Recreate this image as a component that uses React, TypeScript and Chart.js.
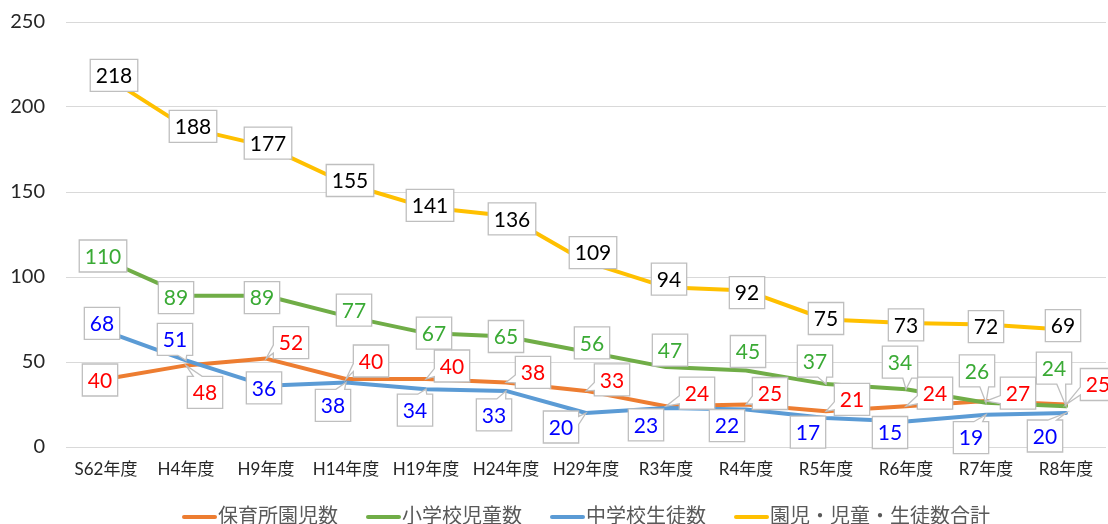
import React, { useEffect, useRef } from 'react';
import { Chart, registerables } from 'chart.js';

Chart.register(...registerables);

// ---- data ----
const categories = ['S62年度', 'H4年度', 'H9年度', 'H14年度', 'H19年度', 'H24年度', 'H29年度', 'R3年度', 'R4年度', 'R5年度', 'R6年度', 'R7年度', 'R8年度'];
const nurseryKids = [40, 48, 52, 40, 40, 38, 33, 24, 25, 21, 24, 27, 25];
const elementaryKids = [110, 89, 89, 77, 67, 65, 56, 47, 45, 37, 34, 26, 24];
const juniorHighKids = [68, 51, 36, 38, 34, 33, 20, 23, 22, 17, 15, 19, 20];
const totalKids = [218, 188, 177, 155, 141, 136, 109, 94, 92, 75, 73, 72, 69];
const seriesNames = ['保育所園児数', '小学校児童数', '中学校生徒数', '園児・児童・生徒数合計'];
const yTickValues = [0, 50, 100, 150, 200, 250];

// ---- styles ----
const lineColors = ['#ED7D31', '#70AD47', '#5B9BD5', '#FFC000'];
const labelColors = ['#FF0000', '#3AAA35', '#0000FF', '#000000'];
const FONT = '"Lato", "Noto Sans CJK JP", sans-serif';
const CANVAS_SHIFT = 11;
const CANVAS_H = 524 + CANVAS_SHIFT;

// label box offsets (px, relative to the point)
const nurseryLabelOffsets = [[-6, 1], [19, 27], [25, -16], [25, -18], [26, -13], [27, -10], [26, -11], [31, -13], [24, -11], [26, -12], [29, -13], [32, -8], [32, -20]];
const elementaryLabelOffsets = [[-3, -4], [-10, 2], [-4, 2], [8, -6], [8, 0], [0, 0], [6, -9], [4, -17], [2, -19], [-11, -23], [-6, -27], [-9, -32], [-12, -38]];
const juniorLabelOffsets = [[-4, -8], [-11, -21], [-2, 2], [-13, 23], [-11, 21], [-12, 24], [-25, 14], [-20, 17], [-19, 16], [-18, 14], [-16, 11], [-15, 23], [-21, 23]];
const totalLabelOffsets = [[8, -1], [7, -1], [2, -3], [4, -3], [4, -2], [6, 3], [7, -9], [3, -8], [1, 2], [0, -1], [0, 2], [0, 2], [-3, -4]];
const labelOffsets = [nurseryLabelOffsets, elementaryLabelOffsets, juniorLabelOffsets, totalLabelOffsets];

function drawCallout(ctx: CanvasRenderingContext2D, x: number, y: number, w: number, h: number, px: number, py: number) {
  const r = x + w;
  const b = y + h;
  const cx = x + w / 2;
  const cy = y + h / 2;
  const inside = px >= x - 3 && px <= r + 3 && py >= y - 3 && py <= b + 3;
  let side: string | null = null;
  if (!inside) {
    const nx = (px - cx) / (w / 2);
    const ny = (py - cy) / (h / 2);
    if (Math.abs(ny) >= Math.abs(nx)) side = ny < 0 ? 'top' : 'bottom';
    else side = nx < 0 ? 'left' : 'right';
  }
  let a = 0, c = 0;
  if (side === 'top' || side === 'bottom') {
    if (px < cx) { a = x + w * 0.17; c = x + w * 0.42; }
    else { a = r - w * 0.42; c = r - w * 0.17; }
  } else if (side) {
    if (py < cy) { a = y + h * 0.17; c = y + h * 0.42; }
    else { a = b - h * 0.42; c = b - h * 0.17; }
  }
  ctx.beginPath();
  ctx.moveTo(x, y);
  if (side === 'top') { ctx.lineTo(a, y); ctx.lineTo(px, py); ctx.lineTo(c, y); }
  ctx.lineTo(r, y);
  if (side === 'right') { ctx.lineTo(r, a); ctx.lineTo(px, py); ctx.lineTo(r, c); }
  ctx.lineTo(r, b);
  if (side === 'bottom') { ctx.lineTo(c, b); ctx.lineTo(px, py); ctx.lineTo(a, b); }
  ctx.lineTo(x, b);
  if (side === 'left') { ctx.lineTo(x, c); ctx.lineTo(px, py); ctx.lineTo(x, a); }
  ctx.closePath();
  ctx.fillStyle = '#FFFFFF';
  ctx.fill();
  ctx.strokeStyle = '#BFBFBF';
  ctx.lineWidth = 1.3;
  ctx.stroke();
}

const calloutPlugin = {
  id: 'calloutLabels',
  afterDatasetsDraw(chart: any) {
    const ctx: CanvasRenderingContext2D = chart.ctx;
    ctx.save();
    ctx.font = `21px ${FONT}`;
    ctx.textAlign = 'center';
    ctx.textBaseline = 'middle';
    chart.data.datasets.forEach((ds: any, di: number) => {
      const meta = chart.getDatasetMeta(di);
      const offs = labelOffsets[di];
      meta.data.forEach((pt: any, i: number) => {
        const text = String(ds.data[i]);
        const tw = ctx.measureText(text).width;
        const w = tw + 11;
        const h = 32;
        const cx = pt.x + offs[i][0];
        const cy = pt.y + offs[i][1];
        drawCallout(ctx, cx - w / 2, cy - h / 2, w, h, pt.x, pt.y);
        ctx.fillStyle = labelColors[di];
        ctx.fillText(text, cx, cy + 1);
      });
    });
    ctx.restore();
  },
};

const legendPlugin = {
  id: 'bottomLegend',
  afterDraw(chart: any) {
    const ctx: CanvasRenderingContext2D = chart.ctx;
    ctx.save();
    ctx.font = `20px ${FONT}`;
    ctx.textBaseline = 'middle';
    ctx.textAlign = 'left';
    const lineLen = 33;
    const gap = 2;
    const spacing = 29;
    let x = 183;
    const y = 517 + CANVAS_SHIFT;
    seriesNames.forEach((name, i) => {
      const tw = ctx.measureText(name).width;
      ctx.strokeStyle = lineColors[i];
      ctx.lineWidth = 4;
      ctx.lineCap = 'round';
      ctx.beginPath();
      ctx.moveTo(x + 1, y);
      ctx.lineTo(x + lineLen - 1, y);
      ctx.stroke();
      ctx.fillStyle = '#595959';
      ctx.fillText(name, x + lineLen + gap, y);
      x += lineLen + gap + tw + spacing;
    });
    ctx.restore();
  },
};

export default function App() {
  const canvasRef = useRef<HTMLCanvasElement | null>(null);

  useEffect(() => {
    if (!canvasRef.current) return;
    const seriesData = [nurseryKids, elementaryKids, juniorHighKids, totalKids];
    const chart = new Chart(canvasRef.current, {
      type: 'line',
      data: {
        labels: categories,
        datasets: seriesData.map((d, i) => ({
          label: seriesNames[i],
          data: d,
          borderColor: lineColors[i],
          backgroundColor: lineColors[i],
          borderWidth: 4,
          borderJoinStyle: 'round' as const,
          borderCapStyle: 'round' as const,
          pointRadius: 0,
          tension: 0,
          order: 4 - i,
        })),
      },
      options: {
        responsive: false,
        animation: false,
        events: [],
        layout: { padding: { top: 10, left: 0, right: 2, bottom: 0 } },
        plugins: {
          legend: { display: false },
          tooltip: { enabled: false },
        },
        scales: {
          x: {
            offset: true,
            grid: { display: false, drawTicks: false },
            border: { display: false },
            ticks: { color: '#262626', font: { family: FONT, size: 17 }, padding: 12, maxRotation: 0, autoSkip: false },
            afterFit: (s: any) => { s.height = 77; },
          },
          y: {
            min: 0,
            max: 250,
            afterBuildTicks: (s: any) => { s.ticks = yTickValues.map((v) => ({ value: v })); },
            grid: { color: '#D9D9D9', lineWidth: 1, drawTicks: false },
            border: { display: false },
            ticks: { color: '#262626', font: { family: FONT, size: 20 }, padding: 21 },
            afterFit: (s: any) => { s.width = 66; },
          },
        },
      },
      plugins: [calloutPlugin, legendPlugin],
    });
    return () => chart.destroy();
  }, []);

  return (
    <div style={{ position: 'absolute', left: 0, top: 0, width: 1108, height: 524, overflow: 'hidden', background: '#FFFFFF' }}>
      <canvas
        ref={canvasRef}
        width={1108}
        height={CANVAS_H}
        style={{ display: 'block', position: 'absolute', left: 0, top: -CANVAS_SHIFT, width: 1108, height: CANVAS_H }}
      />
    </div>
  );
}
